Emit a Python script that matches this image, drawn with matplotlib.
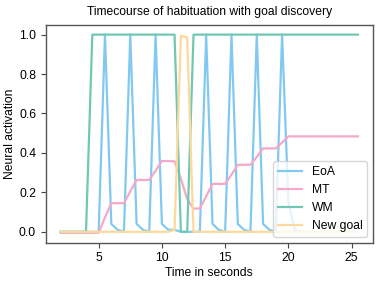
import numpy as np
import matplotlib
matplotlib.use("Agg")
import matplotlib.pyplot as plt

plt.rcParams['font.family'] = ['Liberation Sans', 'DejaVu Sans']

# sampled every half second, 2.0 .. 25.5
time_s = np.arange(2, 26, 0.5)

eoa = [0, 0, 0, 0, 0, 0, 0,
       1.0, 0.04, 0.01, 0,
       1.0, 0.04, 0.01, 0,
       1.0, 0.04, 0.01, 0.01, 0, 0, 0, 0,
       1.0, 0.04, 0.01, 0,
       1.0, 0.04, 0.01, 0,
       1.0, 0.04, 0.01, 0,
       1.0, 0.15, 0.01,
       0, 0, 0, 0, 0, 0, 0, 0, 0, 0]

mt = [-0.005, -0.005, -0.005, -0.005, -0.005, -0.005, -0.005,
      0.073, 0.145, 0.145, 0.145,
      0.205, 0.263, 0.263, 0.263,
      0.31, 0.359, 0.359, 0.357,
      0.27, 0.165, 0.118, 0.118,
      0.18, 0.243, 0.243, 0.243,
      0.29, 0.34, 0.34, 0.34,
      0.38, 0.423, 0.423, 0.423,
      0.453, 0.484, 0.484,
      0.484, 0.484, 0.484, 0.484, 0.484, 0.484, 0.484, 0.484, 0.484, 0.484]

wm = [0, 0, 0, 0, 0,
      1, 1, 1, 1, 1, 1, 1, 1, 1, 1, 1, 1, 1, 1,
      0, 0,
      1, 1, 1, 1, 1, 1, 1, 1, 1, 1, 1, 1, 1, 1, 1, 1, 1,
      1, 1, 1, 1, 1, 1, 1, 1, 1, 1]

new_goal = [0, 0, 0, 0, 0, 0, 0, 0, 0, 0, 0, 0, 0, 0, 0, 0, 0, 0,
            0.01, 0.995, 0.985,
            0, 0, 0, 0, 0, 0, 0, 0, 0, 0, 0, 0, 0, 0, 0, 0, 0,
            0, 0, 0, 0, 0, 0, 0, 0, 0, 0]

series = [("EoA", eoa, "#82c9f1"),
          ("MT", mt, "#f5a8c9"),
          ("WM", wm, "#70c8b4"),
          ("New goal", new_goal, "#fdd99c")]

fs = 8.7

fig = plt.figure(figsize=(3.82, 2.83), dpi=100)
ax = fig.add_axes([0.120, 0.1424, 0.856, 0.7703])

for name, vals, col in series:
    ax.plot(time_s, vals, color=col, lw=1.6, label=name)

ax.set_title("Timecourse of habituation with goal discovery", fontsize=fs, pad=7)
ax.set_xlabel("Time in seconds", fontsize=fs, labelpad=2)
ax.set_ylabel("Neural activation", fontsize=fs, labelpad=2)
ax.set_xticks([5, 10, 15, 20, 25])
ax.set_yticks([0.0, 0.2, 0.4, 0.6, 0.8, 1.0])
ax.tick_params(labelsize=fs, length=3.5, color="#444444")
for s in ax.spines.values():
    s.set_color("#555555")
    s.set_linewidth(1.0)

ax.legend(loc="lower right", fontsize=fs, borderaxespad=0.45)

fig.savefig("out.png", dpi=100)
